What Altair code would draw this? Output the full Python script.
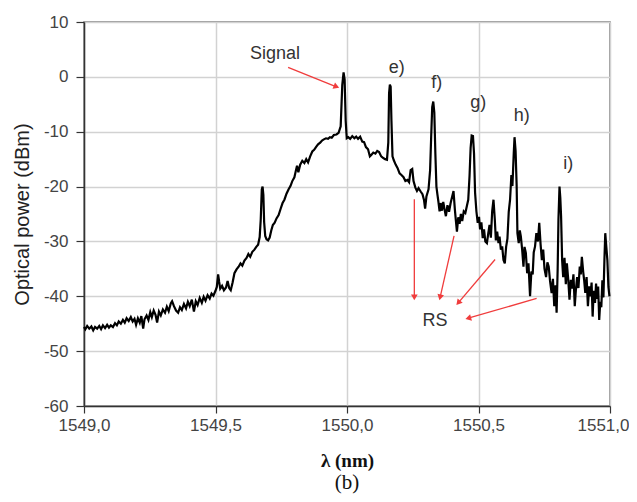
import math
import altair as alt
import pandas as pd

# ---------------- data ----------------
wl = [
    1549.000, 1549.005, 1549.012, 1549.020, 1549.028, 1549.035, 1549.042, 1549.050, 1549.058, 1549.065,
    1549.072, 1549.080, 1549.088, 1549.095, 1549.102, 1549.110, 1549.118, 1549.125, 1549.132, 1549.140,
    1549.148, 1549.155, 1549.162, 1549.170, 1549.178, 1549.185, 1549.192, 1549.198, 1549.205, 1549.212,
    1549.218, 1549.225, 1549.230, 1549.238, 1549.245, 1549.252, 1549.258, 1549.265, 1549.272, 1549.278,
    1549.285, 1549.292, 1549.300, 1549.308, 1549.315, 1549.322, 1549.330, 1549.335, 1549.342, 1549.350,
    1549.358, 1549.365, 1549.372, 1549.380, 1549.388, 1549.395, 1549.402, 1549.410, 1549.418, 1549.425,
    1549.432, 1549.440, 1549.448, 1549.455, 1549.462, 1549.470, 1549.478, 1549.485, 1549.492, 1549.500,
    1549.505, 1549.510, 1549.514, 1549.518, 1549.525, 1549.532, 1549.540, 1549.546, 1549.552, 1549.558,
    1549.565, 1549.572, 1549.580, 1549.588, 1549.595, 1549.602, 1549.610, 1549.618, 1549.625, 1549.632,
    1549.640, 1549.648, 1549.655, 1549.662, 1549.668, 1549.672, 1549.676, 1549.679, 1549.682, 1549.685,
    1549.689, 1549.694, 1549.700, 1549.706, 1549.712, 1549.718, 1549.725, 1549.732, 1549.740, 1549.748,
    1549.755, 1549.762, 1549.770, 1549.778, 1549.785, 1549.792, 1549.800, 1549.806, 1549.810, 1549.815,
    1549.822, 1549.830, 1549.838, 1549.845, 1549.852, 1549.860, 1549.868, 1549.875, 1549.882, 1549.890,
    1549.898, 1549.905, 1549.912, 1549.920, 1549.928, 1549.935, 1549.942, 1549.950, 1549.960, 1549.968,
    1549.976, 1549.982, 1549.987, 1549.991, 1549.995, 1549.999, 1550.005, 1550.012, 1550.020, 1550.028,
    1550.035, 1550.042, 1550.050, 1550.058, 1550.065, 1550.072, 1550.080, 1550.087, 1550.093, 1550.100,
    1550.108, 1550.115, 1550.122, 1550.130, 1550.138, 1550.145, 1550.152, 1550.157, 1550.160, 1550.163,
    1550.166, 1550.169, 1550.173, 1550.178, 1550.185, 1550.192, 1550.200, 1550.207, 1550.215, 1550.222,
    1550.230, 1550.236, 1550.242, 1550.248, 1550.253, 1550.260, 1550.266, 1550.272, 1550.280, 1550.287,
    1550.293, 1550.297, 1550.302, 1550.310, 1550.316, 1550.320, 1550.324, 1550.328, 1550.332, 1550.336,
    1550.340, 1550.344, 1550.348, 1550.352, 1550.356, 1550.361, 1550.366, 1550.371, 1550.376, 1550.382,
    1550.388, 1550.394, 1550.400, 1550.405, 1550.410, 1550.414, 1550.418, 1550.423, 1550.428, 1550.433,
    1550.438, 1550.444, 1550.450, 1550.456, 1550.461, 1550.466, 1550.470, 1550.474, 1550.479, 1550.483,
    1550.487, 1550.492, 1550.497, 1550.502, 1550.506, 1550.511, 1550.516, 1550.521, 1550.526, 1550.532,
    1550.537, 1550.542, 1550.547, 1550.552, 1550.557, 1550.562, 1550.566, 1550.571, 1550.576, 1550.580,
    1550.585, 1550.590, 1550.595, 1550.600, 1550.605, 1550.610, 1550.615, 1550.620, 1550.625, 1550.629,
    1550.634, 1550.637, 1550.641, 1550.645, 1550.648, 1550.653, 1550.657, 1550.661, 1550.666, 1550.671,
    1550.675, 1550.680, 1550.685, 1550.690, 1550.696, 1550.701, 1550.706, 1550.710, 1550.715, 1550.720,
    1550.726, 1550.731, 1550.736, 1550.741, 1550.746, 1550.751, 1550.757, 1550.762, 1550.767, 1550.772,
    1550.778, 1550.783, 1550.788, 1550.793, 1550.797, 1550.801, 1550.804, 1550.808, 1550.811, 1550.814,
    1550.818, 1550.822, 1550.827, 1550.832, 1550.836, 1550.841, 1550.846, 1550.851, 1550.856, 1550.861,
    1550.866, 1550.870, 1550.875, 1550.880, 1550.885, 1550.889, 1550.893, 1550.898, 1550.902, 1550.906,
    1550.911, 1550.916, 1550.921, 1550.926, 1550.930, 1550.934, 1550.938, 1550.943, 1550.947, 1550.951,
    1550.955, 1550.959, 1550.963, 1550.967, 1550.971, 1550.975, 1550.979, 1550.982, 1550.986, 1550.990,
    1550.994, 1550.998,
]
power = [
    -45.6, -46.0, -45.4, -45.9, -45.5, -46.2, -45.6, -45.9, -45.4, -46.0,
    -45.3, -45.8, -45.2, -45.7, -45.3, -45.6, -44.9, -45.3, -44.6, -45.0,
    -44.3, -44.8, -44.0, -44.5, -43.8, -44.6, -44.1, -45.2, -44.0, -44.8,
    -43.6, -45.9, -44.2, -43.5, -44.3, -42.9, -43.8, -42.6, -43.4, -44.8,
    -42.8, -43.5, -42.4, -43.0, -41.9, -42.7, -41.3, -40.9, -41.8, -42.6,
    -43.0, -42.0, -42.5, -41.4, -42.2, -41.0, -41.8, -40.6, -42.8, -40.9,
    -41.6, -40.3, -41.2, -40.1, -40.8, -39.8, -40.4, -39.5, -39.9, -39.0,
    -38.3, -36.0, -37.4, -38.6, -38.1, -38.9, -38.4, -37.2, -38.5, -38.9,
    -37.5, -35.8, -35.1, -34.6, -34.0, -34.4, -33.5, -33.0, -32.3, -32.8,
    -31.9, -31.5, -31.0, -30.6, -29.2, -26.0, -20.5, -20.0, -21.5, -26.5,
    -29.0, -29.6, -29.8, -29.3, -28.0, -27.0, -26.6, -25.8, -25.2, -24.0,
    -23.0, -22.4, -21.3, -20.5, -19.9, -19.0, -18.3, -17.0, -16.2, -17.4,
    -16.0, -15.3, -15.7, -15.0, -15.6, -14.5, -13.6, -13.3, -12.8, -12.3,
    -12.0, -11.6, -11.4, -11.2, -11.3, -11.0, -11.1, -10.6, -10.5, -10.2,
    -9.0, -1.5, 0.8, -0.5, -8.0, -11.2, -11.0, -11.3, -10.8, -11.2,
    -10.9, -11.3, -10.9, -11.8, -11.9, -12.8, -13.2, -14.5, -14.2, -13.8,
    -14.0, -13.5, -13.7, -14.5, -14.8, -15.0, -15.1, -12.0, -3.0, -1.4,
    -1.8, -8.0, -14.5, -15.2, -16.0, -16.6, -17.6, -17.9, -18.3, -19.0,
    -18.8, -19.2, -17.0, -16.8, -19.0, -20.2, -20.8, -20.3, -20.9, -21.4,
    -22.5, -24.0, -21.8, -20.5, -17.0, -11.0, -5.5, -4.5, -6.5, -14.0,
    -20.0, -21.5, -22.9, -24.5, -23.0, -24.4, -22.8, -24.2, -25.4, -23.4,
    -24.6, -23.0, -21.8, -20.8, -24.1, -26.2, -28.2, -25.6, -26.8, -25.0,
    -26.3, -24.5, -24.8, -23.5, -22.4, -18.0, -13.0, -10.7, -10.8, -14.0,
    -21.1, -24.5, -26.6, -25.5, -27.8, -26.5, -29.4, -27.8, -30.0, -30.3,
    -28.6, -27.0, -29.3, -24.5, -22.4, -26.0, -29.8, -28.2, -30.3, -29.1,
    -31.5, -30.9, -33.4, -34.0, -31.0, -29.5, -24.6, -22.4, -17.9, -19.9,
    -14.0, -11.0, -13.5, -19.7, -28.5, -30.3, -28.0, -29.1, -31.5, -34.6,
    -31.0, -32.1, -35.8, -34.0, -40.0, -35.5, -36.0, -32.0, -30.9, -28.5,
    -30.0, -26.6, -30.5, -33.4, -31.5, -35.0, -36.5, -33.8, -34.6, -37.2,
    -39.4, -36.8, -41.8, -38.0, -43.0, -35.0, -26.0, -20.0, -22.0, -25.4,
    -33.4, -36.5, -33.0, -37.8, -34.0, -36.8, -40.6, -37.0, -38.6, -36.0,
    -41.8, -39.0, -36.5, -38.5, -34.6, -36.0, -32.8, -35.5, -37.2, -39.4,
    -36.5, -41.8, -38.2, -40.0, -37.5, -43.7, -39.0, -41.2, -37.7, -40.5,
    -38.2, -44.3, -41.0, -42.0, -37.1, -40.2, -33.0, -28.5, -31.0, -33.4,
    -38.3, -40.0,
]

x_ticks = [1549.0, 1549.5, 1550.0, 1550.5, 1551.0]
y_ticks = [10, 0, -10, -20, -30, -40, -50, -60]

# annotation texts (data coordinates)
label_text = ["Signal", "e)", "f)", "g)", "h)", "i)", "RS"]
label_x = [1549.726, 1550.189, 1550.341, 1550.499, 1550.664, 1550.841, 1550.335]
label_y = [4.1, 1.7, -1.05, -4.7, -7.1, -15.9, -44.5]

# red arrows (start -> end, data coordinates)
arrow_x1 = [1549.776, 1550.256, 1550.407, 1550.563, 1550.721]
arrow_y1 = [1.74, -22.3, -29.0, -33.3, -40.4]
arrow_x2 = [1549.960, 1550.256, 1550.354, 1550.423, 1550.461]
arrow_y2 = [-1.81, -40.2, -40.2, -41.2, -44.0]

X_DOM = [1549.0, 1551.0]
Y_DOM = [-60, 10]
W, H = 526, 384
RED = "#f03c3c"

df = pd.DataFrame({"wl": wl, "p": power})
lab = pd.DataFrame({"x": label_x, "y": label_y, "t": label_text})
arr = pd.DataFrame({"x1": arrow_x1, "y1": arrow_y1, "x2": arrow_x2, "y2": arrow_y2})
# arrowhead orientation from screen-space direction (scale ratios)
sx = W / (X_DOM[1] - X_DOM[0])
sy = H / (Y_DOM[1] - Y_DOM[0])
arr["ang"] = [
    (math.degrees(math.atan2((b - a) * sx, (d - c) * sy))) % 360
    for a, b, c, d in zip(arr.x1, arr.x2, arr.y1, arr.y2)
]

xs = alt.Scale(domain=X_DOM, nice=False, zero=False)
ys = alt.Scale(domain=Y_DOM, nice=False, zero=False)

x_axis = alt.Axis(
    values=x_ticks,
    labelExpr="replace(format(datum.value, '.1f'), '.', ',')",
    labelFlush=False,
    labelOffset={"condition": {"test": "datum.value >= 1551", "value": -7}, "value": 0},
    title="λ (nm)",
    titleFont="Liberation Serif",
    titleFontSize=19,
    titleFontWeight="bold",
    titleColor="#111",
    titleX=W / 2,
    titleY=54,
    titleBaseline="middle",
    tickSize=7,
    labelPadding=4,
)
y_axis = alt.Axis(
    values=y_ticks,
    labelExpr="toString(datum.value)",
    labelFlush=False,
    title="Optical power (dBm)",
    titleFont="Liberation Sans",
    titleFontSize=20,
    titleFontWeight="normal",
    titleColor="#222",
    titleX=-62,
    titleY=H / 2,
    titleAngle=270,
    titleBaseline="middle",
    titleAlign="center",
    tickSize=8,
    labelPadding=8,
)

line = alt.Chart(df).mark_line(color="black", strokeWidth=2.2, strokeJoin="miter").encode(
    x=alt.X("wl:Q", scale=xs, axis=x_axis),
    y=alt.Y("p:Q", scale=ys, axis=y_axis),
)

texts = alt.Chart(lab).mark_text(
    font="Liberation Sans", fontSize=18, color="#333", align="center", baseline="middle"
).encode(x=alt.X("x:Q", scale=xs), y=alt.Y("y:Q", scale=ys), text="t:N")

rules = alt.Chart(arr).mark_rule(color=RED, strokeWidth=1.3).encode(
    x=alt.X("x1:Q", scale=xs), y=alt.Y("y1:Q", scale=ys), x2="x2:Q", y2="y2:Q"
)

heads = alt.Chart(arr).mark_point(
    shape="triangle-up", filled=True, color=RED, size=45, opacity=1
).encode(
    x=alt.X("x2:Q", scale=xs),
    y=alt.Y("y2:Q", scale=ys),
    angle=alt.Angle("ang:Q", scale=None),
)

panel = alt.Chart(pd.DataFrame({"t": ["(b)"]})).mark_text(
    font="Liberation Serif", fontSize=21, color="#111", align="center", baseline="middle"
).encode(x=alt.value(W / 2), y=alt.value(H + 77), text="t:N")

chart = (
    alt.layer(line, rules, heads, texts, panel)
    .properties(
        width=W,
        height=H,
        autosize=alt.AutoSizeParams(type="none"),
        padding={"left": 76, "top": 14, "right": 19, "bottom": 88},
        background="white",
    )
    .configure_view(stroke="#777", strokeWidth=1.5)
    .configure_axis(
        grid=True,
        gridColor="#d2d2d2",
        gridWidth=1.5,
        domainColor="#333",
        domainWidth=1.5,
        tickColor="#333",
        tickWidth=1.2,
        labelFont="Liberation Sans",
        labelFontSize=17,
        labelColor="#444",
    )
)

chart.save("out.html", embed_options={"renderer": "svg", "actions": False})
